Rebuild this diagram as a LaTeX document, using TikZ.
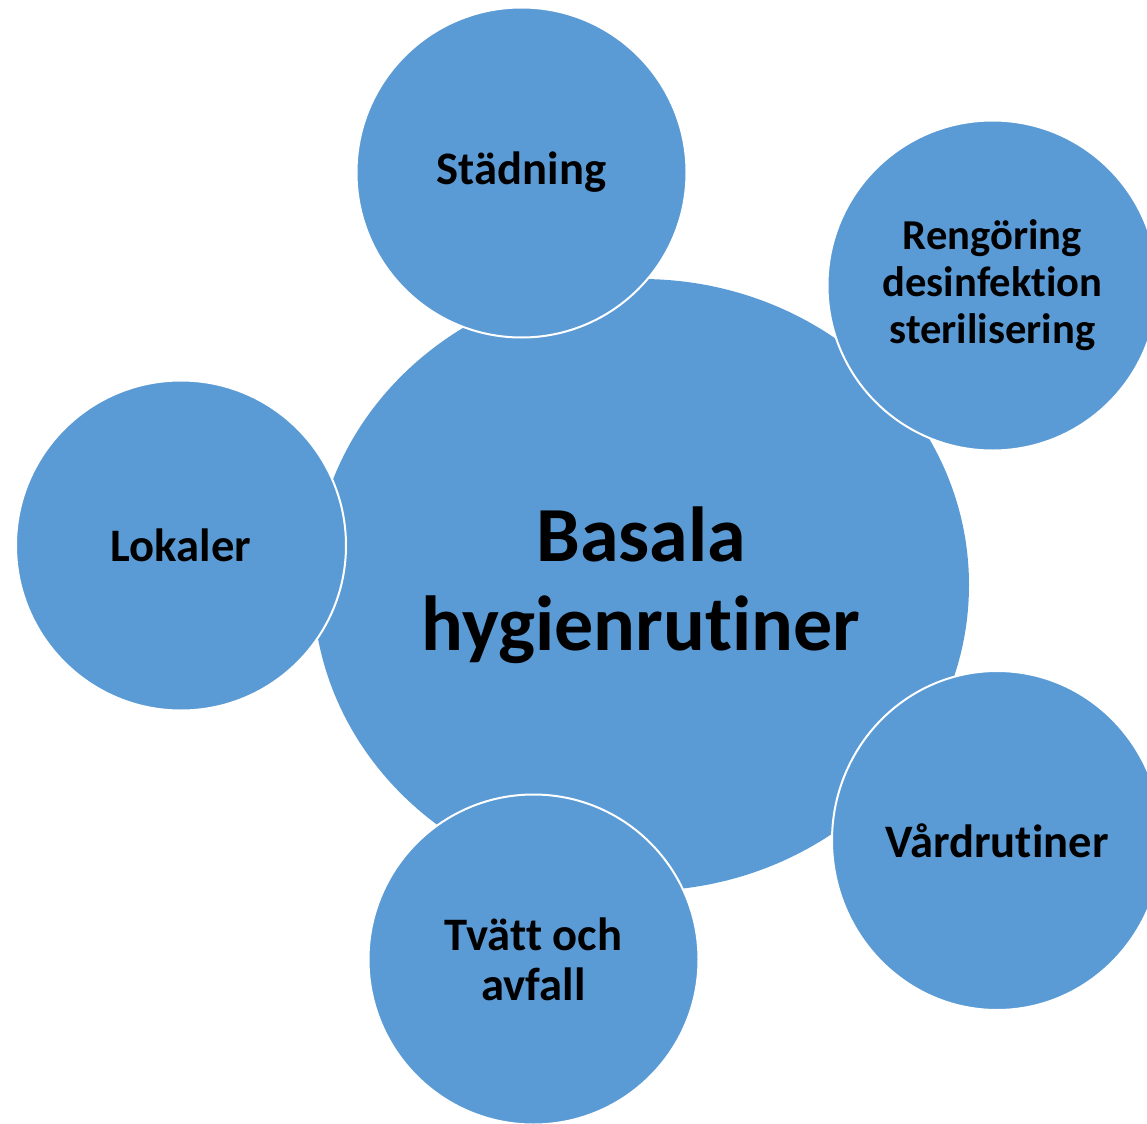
\documentclass[tikz,border=0pt]{standalone}
\usepackage{fontspec}
\setmainfont{Carlito}[Ligatures=NoCommon]
\usetikzlibrary{shapes.geometric}
\definecolor{hygblue}{HTML}{5B9BD5}

\begin{document}
\begin{tikzpicture}[x=0.5pt,y=-0.5pt]
        \tikzstyle{every node}=[fill=hygblue,inner sep=0pt,align=center,text=black,font=\bfseries\fontsize{23.3}{25}\selectfont]
        \tikzstyle{center blob}=[ellipse,minimum width=328pt,minimum height=306pt,font=\bfseries\fontsize{39}{44.5}\selectfont]
        \tikzstyle{topic}=[circle,draw=white,line width=1pt,minimum size=165pt]
        \useasboundingbox (0,0) rectangle (1147,1124);
        \clip (0,0) rectangle (1147,1124);
        \node[center blob] (basala) at (641,585) {Basala\\hygienrutiner};
        \node[topic] (stad) at (521.5,172.5) {Städning};
        \node[topic,font=\bfseries\fontsize{21.3}{23.5}\selectfont] (reng) at (992.5,285.5) {Rengöring\\desinfektion\\sterilisering};
        \node[topic] (lok) at (181,545.5) {Lokaler};
        \node[topic,ellipse,minimum width=165pt,minimum height=169.5pt] (vard) at (997,840.5) {Vårdrutiner};
        \node[topic] (tvatt) at (533.5,959.5) {Tvätt och\\avfall};
    \end{tikzpicture}
\end{document}
